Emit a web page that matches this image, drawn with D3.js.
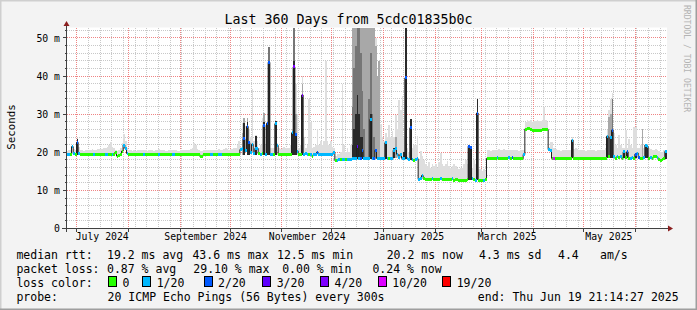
<!DOCTYPE html>
<html>
<head>
<meta charset="utf-8">
<script src="https://cdn.jsdelivr.net/npm/d3@7"></script>
<style>
  body { margin: 0; background: #fff; }
  svg { display: block; }
  text { font-family: "DejaVu Sans Mono", monospace; fill: #000; }
</style>
</head>
<body>
<div id="chart"></div>
<script>
// one value per day, 24 Jun 2024 -> 19 Jun 2025
const startTime = Date.UTC(2024, 5, 24, 21, 14, 27);
const endTime = Date.UTC(2025, 5, 19, 21, 14, 27);
const DAY = 864e5;

// median rtt (ms)
const median = [
  19.4,19.5,19.4,21.5,19.6,19.4,22.6,19.7,19.4,19.4,19.4,19.4,19.4,19.4,19.4,19.4,19.5,19.4,19.4,19.4,
  19.4,19.4,19.4,19.5,19.5,19.4,19.4,19.5,19.4,20.0,19.0,19.1,19.4,20.3,21.9,21.0,19.7,19.4,19.4,19.4,
  19.4,19.4,19.4,19.4,19.4,19.4,19.5,19.4,19.4,19.4,19.4,19.4,19.4,19.4,19.4,19.5,19.4,19.4,19.4,19.4,
  19.4,19.4,19.4,19.5,19.5,19.4,19.4,19.4,19.4,19.4,19.4,19.4,19.4,19.4,19.4,19.4,19.4,19.4,19.4,19.4,
  18.9,19.0,19.4,19.4,19.4,19.4,19.5,19.5,19.4,19.4,19.4,19.5,19.5,19.4,19.4,19.4,19.4,19.4,19.4,19.4,
  19.4,19.4,19.4,19.5,20.7,21.0,23.5,20.5,26.8,22.5,20.0,22.1,19.8,21.0,21.0,19.6,19.5,19.6,27.1,19.5,
  27.6,43.6,19.4,19.4,19.5,27.5,21.8,19.4,19.4,19.4,19.4,19.4,19.4,19.5,19.4,25.1,42.4,24.7,20.3,19.4,
  19.4,35.0,19.5,19.6,19.4,19.4,19.5,19.0,19.4,19.4,20.0,19.4,19.4,19.4,19.4,19.4,19.4,19.4,19.5,19.5,
  20.0,17.8,17.9,18.0,18.0,18.1,18.2,18.2,18.2,18.1,18.2,18.3,18.3,18.4,21.6,18.4,18.3,20.5,18.3,18.3,
  18.3,18.4,28.6,18.4,18.4,20.5,18.4,18.4,18.4,18.3,18.3,22.5,18.4,18.4,18.4,18.4,20.5,20.9,19.5,18.6,
  19.4,18.4,18.4,39.5,18.3,18.1,26.4,18.0,17.9,18.2,18.3,12.9,13.0,13.9,13.0,12.9,12.9,12.9,12.9,13.0,
  12.8,12.9,12.9,12.9,13.0,12.8,12.8,12.9,12.9,12.8,12.8,13.0,12.7,12.8,12.8,12.6,12.6,12.7,12.6,12.7,
  12.8,21.6,21.3,13.0,12.8,12.7,30.3,12.7,12.5,12.6,12.7,12.8,18.4,18.4,18.4,18.4,18.4,18.4,18.5,18.4,
  18.4,18.4,18.4,18.4,18.4,18.5,18.4,18.5,18.4,18.4,18.4,18.4,18.4,18.3,19.4,26.1,26.2,26.2,26.0,25.8,
  25.8,25.7,25.8,25.8,25.8,25.9,25.9,25.9,26.0,20.7,20.4,18.4,18.4,18.4,18.4,18.4,18.4,18.4,18.4,18.4,
  18.4,18.4,18.4,23.2,18.4,18.4,18.4,18.4,18.4,18.4,18.4,18.4,18.4,18.4,18.4,18.4,18.4,18.4,18.4,18.4,
  18.4,18.4,18.4,18.4,24.2,19.0,23.9,25.8,18.8,18.4,18.8,18.5,18.8,18.4,20.1,18.5,20.1,18.4,18.4,18.7,
  18.4,19.5,19.8,18.6,18.4,18.4,18.5,21.9,21.5,18.4,18.6,18.4,18.8,19.0,18.6,18.2,17.9,18.0,18.3,20.2
];

// lost pings out of 20
const lossCount = [
  1,1,0,1,1,0,2,1,0,0,0,0,0,0,0,0,1,0,0,0,
  0,0,0,1,1,0,0,1,0,0,0,0,0,0,1,1,1,0,0,0,
  0,0,0,0,0,0,1,0,0,0,0,0,0,0,0,1,0,0,0,0,
  0,0,0,1,1,0,0,0,0,0,0,0,0,0,0,0,0,0,0,0,
  0,0,0,0,0,0,1,1,0,0,0,1,1,0,0,0,0,0,0,0,
  0,0,0,0,1,1,2,1,2,2,1,1,1,1,1,0,1,0,2,1,
  2,2,1,1,0,1,1,0,0,0,0,0,0,0,0,1,4,2,1,0,
  0,4,1,1,1,0,1,0,1,1,2,1,1,1,1,1,1,1,1,1,
  1,0,1,1,0,1,1,0,1,1,1,1,1,1,3,1,2,2,1,1,
  1,1,1,1,2,2,1,1,1,1,1,1,1,0,1,1,1,1,1,1,
  1,1,1,2,1,1,2,1,0,1,1,1,1,1,0,0,0,0,0,1,
  0,0,0,0,1,0,0,0,0,0,0,1,0,0,0,0,0,0,0,0,
  0,2,2,1,0,1,2,0,0,0,1,0,0,0,0,0,0,0,1,0,
  0,0,0,0,0,1,0,2,0,0,0,0,0,0,1,0,0,0,0,0,
  0,0,0,0,0,0,0,0,0,1,1,0,10,0,0,0,0,0,0,0,
  0,0,0,1,0,0,0,0,0,0,0,0,0,0,0,0,0,0,0,0,
  0,0,0,0,1,0,1,2,1,0,1,0,1,0,1,0,2,0,1,1,
  0,2,1,2,0,0,1,1,1,0,1,0,0,0,1,0,0,0,0,1
];

// top of the light smoke (slowest ping, ms)
const smokeHi = [
  20.4,20.5,20.6,22.0,20.8,20.6,23.8,21.5,20.6,20.5,20.4,20.5,20.7,20.6,20.5,20.8,20.7,20.6,20.9,20.8,
  20.9,20.8,21.0,21.2,21.4,21.8,22.7,21.5,21.0,20.6,20.3,20.5,21.0,22.5,24.9,23.0,21.2,20.6,20.5,20.4,
  20.5,20.4,20.6,20.5,20.5,20.6,20.7,20.5,20.4,20.5,20.6,20.5,20.4,20.6,20.7,20.8,20.6,20.5,20.5,20.4,
  20.4,20.5,20.5,20.6,20.6,20.5,20.4,20.4,20.5,20.6,20.6,20.7,20.5,20.6,20.8,21.0,22.5,22.0,20.8,20.6,
  20.3,20.4,20.6,20.5,20.6,20.6,20.7,20.6,20.5,20.6,20.7,20.8,20.6,20.7,20.9,21.0,20.8,20.7,20.8,20.9,
  21.0,21.2,22.0,22.9,21.5,27.7,29.0,27.0,29.0,26.0,24.0,36.5,23.0,24.5,23.0,21.0,22.0,29.0,30.2,22.0,
  28.2,47.7,21.0,21.0,21.0,28.2,22.5,21.0,20.8,21.0,21.5,21.2,21.0,21.2,22.0,26.0,52.6,38.0,30.0,21.0,
  22.0,40.0,24.0,21.0,22.0,34.0,28.0,21.0,21.5,22.0,26.0,22.0,23.0,22.0,23.0,44.0,23.0,22.0,23.0,21.5,
  21.0,19.0,19.5,19.5,20.0,38.0,22.0,20.0,21.0,20.0,22.0,52.6,52.6,52.6,52.6,52.6,52.6,52.6,52.6,52.6,
  52.6,52.6,52.6,52.6,52.6,50.0,40.0,43.9,27.3,24.0,23.0,25.0,24.0,27.1,24.0,25.5,24.0,29.9,26.0,33.7,
  31.2,34.7,24.0,52.6,21.0,20.0,28.6,21.0,22.0,22.0,24.2,18.0,20.3,19.0,18.0,17.0,16.5,17.5,16.0,17.0,
  16.5,17.0,16.0,17.5,19.8,17.0,16.5,17.0,17.7,16.5,16.0,16.5,17.0,16.5,16.0,15.5,15.8,16.0,17.0,18.0,
  17.0,22.0,21.5,16.0,17.9,17.0,33.9,15.7,15.7,15.0,15.5,15.0,20.5,20.6,20.4,20.5,20.7,20.6,20.5,20.8,
  20.7,20.6,20.8,20.7,20.6,20.7,20.5,20.6,20.6,20.5,20.7,20.4,20.6,20.5,20.5,28.0,28.4,28.2,28.4,28.0,
  28.3,28.2,28.4,28.1,28.2,28.4,31.9,28.4,28.0,21.5,22.7,22.7,21.0,20.8,20.5,20.6,20.4,20.6,20.5,20.7,
  20.6,20.5,20.7,24.0,20.8,21.0,20.9,20.6,20.5,20.7,20.6,20.4,20.5,20.6,20.7,20.5,20.6,20.4,20.5,20.6,
  20.6,20.5,20.7,21.0,25.8,31.0,34.1,35.5,25.0,22.0,21.0,24.5,22.0,21.0,21.0,25.8,21.0,23.6,22.0,21.0,
  26.7,26.7,21.0,21.0,22.0,26.2,21.0,22.2,21.8,21.0,20.8,20.5,20.7,20.8,20.6,20.3,20.0,20.2,20.5,20.6
];

// denser smoke bands: [day, from ms, to ms]
const smokeMid = [
  [105,19.4,25],[106,19.4,29],[108,19.4,29],[118,19.4,30.2],[121,19.4,47.7],
  [136,19.4,52.6],[137,19.4,30],[141,19.4,38],
  [171,18.2,52.6],[172,18.2,52.6],[173,18.2,52.6],[174,18.2,52.6],[175,18.2,52.6],
  [176,18.2,52.6],[177,18.2,52.6],[178,18.2,52.6],[179,18.2,52.6],[180,18.2,52.6],
  [181,18.2,52.6],[182,18.2,52.6],[183,18.2,52.6],[184,18.2,52.6],[185,18.2,48],
  [186,18.2,40],[187,18.2,43.9],
  [197,18.4,24],[203,18.2,52.6],
  [325,18.4,29.3],[326,18.4,30],[327,18.4,34.1],[345,18.4,26.2]
];
const smokeDense = [
  [121,19.4,47.7],[136,19.4,52.6],
  [171,18.2,32],[172,18.2,42],[173,18.2,48],[174,18.2,52.6],[175,18.2,52.6],
  [176,18.2,46],[177,18.2,36],[178,18.2,26],[181,18.2,34],[182,18.2,46],[183,18.2,30],
  [184,18.2,24],[327,18.4,34.1]
];
const smokeDark = [
  [6,19.4,23.6],[106,19.4,27.7],[108,19.4,27.9],[109,19.4,22.5],[113,19.4,24.2],
  [118,19.4,28],[120,19.4,28],[121,19.4,43.6],[125,19.4,28.2],[135,19.4,25],
  [136,19.4,44],[137,19.4,25],[141,19.4,35.4],
  [171,18.2,22],[172,18.2,26],[173,18.2,30],[174,18.2,35],[175,18.2,30],[176,18.2,24],
  [177,18.2,24],[182,18.2,30],[191,18.3,22.5],[196,18.4,21],[202,18.4,20],
  [203,18.2,52.6],[206,18.0,28.6],[241,12.8,22],[242,12.8,21.5],[246,12.6,33.9],
  [303,18.4,23.5],[324,18.4,24.2],[326,18.4,24],[327,18.4,26],[334,18.4,20.1],
  [336,18.4,20.1],[341,18.4,19.5],[347,18.4,21.9],[348,18.4,21.5],[359,18.3,20.4]
];

const yTicks = [0, 10, 20, 30, 40, 50];
const yTickLabels = ["0", "10 m", "20 m", "30 m", "40 m", "50 m"];
const xTickDates = [[2024,6],[2024,8],[2024,10],[2025,0],[2025,2],[2025,4]];
const xTickLabels = ["July 2024", "September 2024", "November 2024", "January 2025", "March 2025", "May 2025"];

const lossLevels = [0, 1, 2, 3, 4, 10, 19];
const lossLabels = ["0", "1/20", "2/20", "3/20", "4/20", "10/20", "19/20"];
const lossColors = ["#26ff00", "#00b8ff", "#0059ff", "#5e00ff", "#7e00ff", "#dd00ff", "#ff0000"];

const rttStats = ["19.2 ms avg", "43.6 ms max", "12.5 ms min", "20.2 ms now", "4.3 ms sd", "4.4", "am/s"];
const lossStats = ["0.87 % avg", "29.10 % max", "0.00 % min", "0.24 % now"];
const probeText = "20 ICMP Echo Pings (56 Bytes) every 300s";
const endText = "end: Thu Jun 19 21:14:27 2025";

const W = 697, H = 310;
const svg = d3.select("#chart").append("svg")
    .attr("width", W).attr("height", H);

svg.append("rect").attr("width", W).attr("height", H).attr("fill", "#f3f3f3");
// 3d frame
svg.append("path").attr("d", `M0,${H} V0 H${W}`).attr("fill", "none")
    .attr("stroke", "#cfcfcf").attr("stroke-width", 3);
svg.append("path").attr("d", `M0,${H} H${W} V0`).attr("fill", "none")
    .attr("stroke", "#9e9e9e").attr("stroke-width", 3);

const x = d3.scaleUtc()
    .domain([new Date(startTime), new Date(endTime)])
    .range([66.5, 666.5]);
const y = d3.scaleLinear().domain([0, 52.6]).range([228.5, 28]);
const dayX = d => x(new Date(startTime + d * DAY));
const snap = v => Math.round(v - 0.5) + 0.5;

svg.append("rect").attr("x", 67).attr("y", 27.5).attr("width", 600).attr("height", 201)
    .attr("fill", "#fff");

// grid, drawn as 1px dots
const grid = svg.append("g").attr("shape-rendering", "crispEdges");
const t0 = new Date(startTime), t1 = new Date(endTime);
const minorCol = "#c8c8c8", majorCol = "#ef8484";
const hDots = (yy, col) => grid.append("path")
    .attr("d", d3.range(67, 667, 2).map(xx => `M${xx},${yy}h1v1h-1z`).join(""))
    .attr("fill", col);
const vDots = (xx, col) => grid.append("path")
    .attr("d", d3.range(28, 228, 2).map(yy => `M${xx},${yy}h1v1h-1z`).join(""))
    .attr("fill", col);
d3.range(2, 53, 2).filter(v => v % 10 !== 0).forEach(v => hDots(Math.floor(y(v)), minorCol));
d3.utcMonday.range(t0, t1).forEach(t => vDots(Math.floor(x(t)), minorCol));
yTicks.filter(v => v > 0).forEach(v => hDots(Math.floor(y(v)), majorCol));
d3.utcMonth.range(t0, t1).forEach(t => vDots(Math.floor(x(t)), majorCol));

// smoke
const smoke = svg.append("g").attr("shape-rendering", "crispEdges");
const days = d3.range(median.length);
smoke.selectAll(".hi").data(days.filter(d => smokeHi[d] > median[d])).join("rect")
    .attr("x", d => dayX(d)).attr("width", d => dayX(d + 1) - dayX(d))
    .attr("y", d => y(smokeHi[d])).attr("height", d => y(median[d]) - y(smokeHi[d]))
    .attr("fill", "#dedede");
const band = (list, col) => smoke.append("g").selectAll("rect").data(list).join("rect")
    .attr("x", d => dayX(d[0])).attr("width", d => dayX(d[0] + 1) - dayX(d[0]))
    .attr("y", d => y(d[2])).attr("height", d => y(d[1]) - y(d[2]))
    .attr("fill", col);
band(smokeMid, "#a8a8a8");
band(smokeDense, "#767676");
band(smokeDark, "#2a2a2a");

// median line
const pts = days.map(d => [dayX(d), y(median[d])]);
pts.push([dayX(median.length), y(median[median.length - 1])]);
svg.append("path").attr("d", d3.line().curve(d3.curveStepAfter)(pts))
    .attr("fill", "none").attr("stroke", "#202020").attr("stroke-width", 1);

const lossColor = n => {
    let c = lossColors[0];
    lossLevels.forEach((lv, i) => { if (n >= lv) c = lossColors[i]; });
    return c;
};
svg.append("g").attr("shape-rendering", "crispEdges")
    .selectAll("rect").data(days).join("rect")
    .attr("x", d => dayX(d)).attr("width", d => dayX(d + 1) - dayX(d) + 0.3)
    .attr("y", d => y(median[d]) - 1.5).attr("height", 3)
    .attr("fill", d => lossColor(lossCount[d]));

// axes
const axisCol = "#404040", arrowCol = "#8b1f1f";
const ax = svg.append("g").attr("shape-rendering", "crispEdges");
ax.append("line").attr("x1", 62).attr("x2", 668).attr("y1", 228.5).attr("y2", 228.5).attr("stroke", axisCol);
ax.append("line").attr("x1", 66.5).attr("x2", 66.5).attr("y1", 232).attr("y2", 25).attr("stroke", axisCol);
svg.append("path").attr("d", "M668,225.5 L673,228.5 L668,231.5 Z").attr("fill", arrowCol);
svg.append("path").attr("d", "M63.5,26 L66.5,21 L69.5,26 Z").attr("fill", arrowCol);

d3.range(0, 53, 2).forEach(v => {
    ax.append("line").attr("x1", v % 10 === 0 ? 63 : 64.5).attr("x2", 66.5)
        .attr("y1", snap(y(v))).attr("y2", snap(y(v))).attr("stroke", axisCol);
});
d3.utcMonth.range(t0, t1).forEach(t => {
    ax.append("line").attr("x1", snap(x(t))).attr("x2", snap(x(t)))
        .attr("y1", 228.5).attr("y2", 231.5).attr("stroke", axisCol);
});

const yAxis = d3.axisLeft(y).tickValues(yTicks).tickSize(0).tickPadding(0)
    .tickFormat((d, i) => yTickLabels[i]);
const gy = svg.append("g").attr("transform", "translate(60,0)").call(yAxis);
gy.select(".domain").remove();
gy.selectAll("text").attr("font-size", 9.8).attr("font-family", "DejaVu Sans Mono").attr("fill", "#000");

const labelDates = xTickDates.map(([yy, mm]) => new Date(Date.UTC(yy, mm, 16)));
const xAxis = d3.axisBottom(x).tickValues(labelDates).tickSize(0).tickPadding(0)
    .tickFormat((d, i) => xTickLabels[i]);
const gx = svg.append("g").attr("transform", "translate(0,233)").call(xAxis);
gx.select(".domain").remove();
gx.selectAll("text").attr("font-size", 9.8).attr("font-family", "DejaVu Sans Mono").attr("fill", "#000");

// titles
svg.append("text").attr("x", 348.5).attr("y", 24).attr("text-anchor", "middle")
    .attr("font-size", 13.3).text("Last 360 Days from 5cdc01835b0c");
svg.append("text").attr("transform", "translate(14.5,127) rotate(-90)")
    .attr("text-anchor", "middle").attr("font-size", 10.8).text("Seconds");
svg.append("text").attr("transform", "translate(684,5) rotate(90)")
    .attr("font-size", 8.1).style("fill", "#b4b4b4").text("RRDTOOL / TOBI OETIKER");

// legend
const fs = 11.5;
const row = (yy, items) => items.forEach(([t, xx]) => {
    svg.append("text").attr("x", xx).attr("y", yy).attr("font-size", fs).text(t);
});
const rttX = [107, 192.4, 277, 386.7, 479, 558, 600];
const lossX = [107, 193.3, 282.2, 372.4];
row(258.5, [["median rtt:", 16.4]].concat(rttStats.map((s, i) => [s, rttX[i]])));
row(272.5, [["packet loss:", 16.4]].concat(lossStats.map((s, i) => [s, lossX[i]])));
row(286.5, [["loss color:", 16.4]]);
row(300.5, [["probe:", 16.4], [probeText, 107.6], [endText, 477.8]]);

const boxX = [108, 142.2, 203.6, 262.2, 320, 377.8, 442.2];
lossLabels.forEach((lab, i) => {
    svg.append("rect").attr("x", boxX[i] + 0.5).attr("y", 276.5).attr("width", 8).attr("height", 10)
        .attr("fill", lossColors[i]).attr("stroke", "#000").attr("stroke-width", 1)
        .attr("shape-rendering", "crispEdges");
    svg.append("text").attr("x", boxX[i] + 14.5).attr("y", 286.5).attr("font-size", fs).text(lab);
});
</script>
</body>
</html>
